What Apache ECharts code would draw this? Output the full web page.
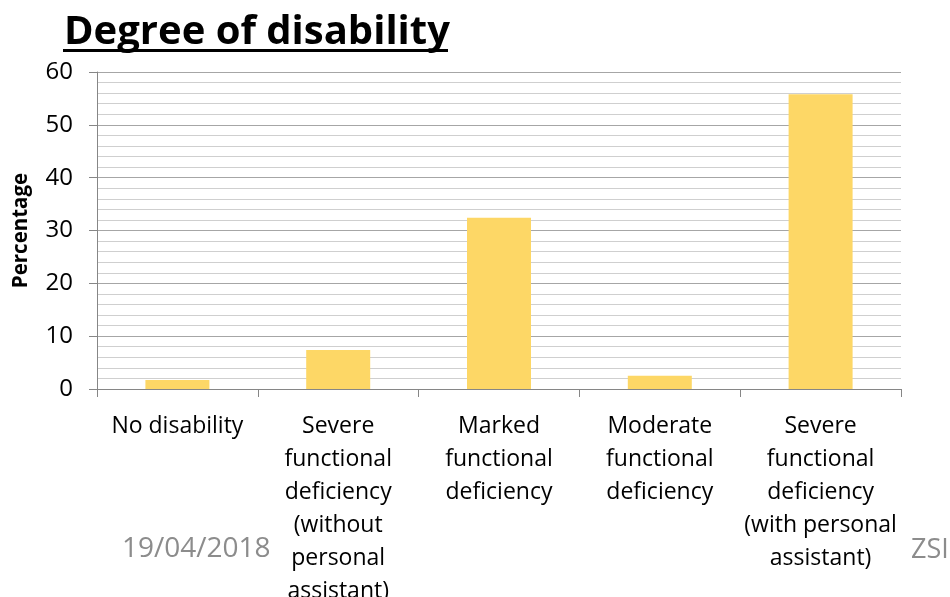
<!DOCTYPE html>
<html>
<head>
<meta charset="utf-8">
<script src="https://cdn.jsdelivr.net/npm/echarts@6/dist/echarts.min.js"></script>
<style>
  html, body { margin: 0; padding: 0; background: #fff; }
  #chart { width: 950px; height: 597px; }
</style>
</head>
<body>
<div id="chart"></div>
<script>
// Share of respondents by degree of disability (%)
const categories = [
  'No disability',
  'Severe\nfunctional\ndeficiency\n(without\npersonal\nassistant)',
  'Marked\nfunctional\ndeficiency',
  'Moderate\nfunctional\ndeficiency',
  'Severe\nfunctional\ndeficiency\n(with personal\nassistant)'
];
const percentages = [1.7, 7.4, 32.4, 2.5, 55.8];
const yTicks = { min: 0, max: 60, step: 10 };

const FONT = '"Open Sans", sans-serif';

const chart = echarts.init(document.getElementById('chart'));
chart.setOption({
  animation: false,
  backgroundColor: '#ffffff',
  title: {
    text: 'Degree of disability',
    left: 59,
    top: 8,
    textStyle: { fontFamily: FONT, fontWeight: 'bold', fontSize: 40, color: '#000' }
  },
  graphic: [
    { type: 'rect', shape: { x: 63, y: 49, width: 385, height: 3 }, style: { fill: '#000' } },
    { type: 'text', left: 122, top: 535,
      style: { text: '19/04/2018', fontFamily: FONT, fontSize: 28, fill: '#8c8c8c' } },
    { type: 'text', left: 911, top: 537,
      style: { text: 'ZSI', fontFamily: FONT, fontSize: 27, fill: '#8c8c8c' } }
  ],
  grid: { left: 97, right: 49, top: 72, bottom: 208, containLabel: false, outerBoundsMode: 'none' },
  xAxis: {
    type: 'category',
    data: categories,
    boundaryGap: true,
    axisLine: { lineStyle: { color: '#868686', width: 1 } },
    axisTick: { show: true, alignWithLabel: false, length: 8, lineStyle: { color: '#868686' } },
    axisLabel: {
      interval: 0,
      margin: 21,
      fontFamily: FONT,
      fontSize: 23,
      lineHeight: 33,
      color: '#000',
      align: 'center'
    }
  },
  yAxis: {
    type: 'value',
    min: yTicks.min,
    max: yTicks.max,
    interval: yTicks.step,
    name: 'Percentage',
    nameLocation: 'middle',
    nameRotate: 90,
    nameGap: 65,
    nameTextStyle: { fontFamily: FONT, fontWeight: 'bold', fontSize: 20.5, color: '#000' },
    axisLine: { show: true, lineStyle: { color: '#868686', width: 1 } },
    axisTick: { show: true, length: 8, lineStyle: { color: '#868686' } },
    axisLabel: { margin: 24, fontFamily: FONT, fontSize: 24, color: '#000' },
    splitLine: { show: true, lineStyle: { color: '#a6a6a6', width: 1 } },
    minorTick: { show: false, splitNumber: 5 },
    minorSplitLine: { show: true, lineStyle: { color: '#cfcfcf', width: 1 } }
  },
  series: [{
    type: 'bar',
    data: percentages,
    barWidth: 64,
    itemStyle: { color: '#fdd766' }
  }]
});
</script>
</body>
</html>
